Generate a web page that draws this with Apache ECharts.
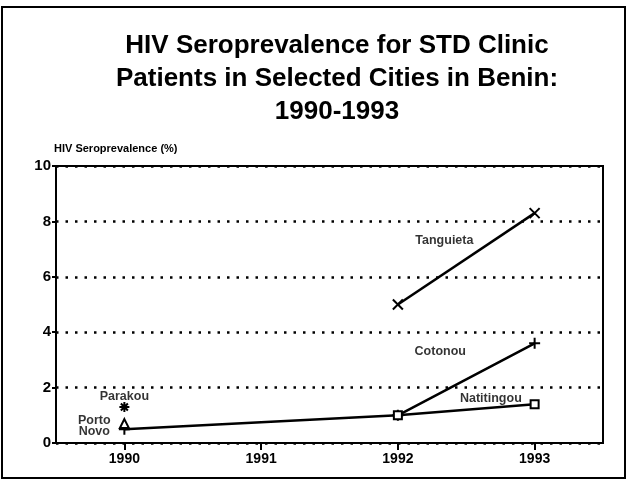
<!DOCTYPE html>
<html>
<head>
<meta charset="utf-8">
<script src="https://cdn.jsdelivr.net/npm/echarts@6/dist/echarts.min.js"></script>
<style>
  html, body { margin: 0; padding: 0; background: #fff; }
  #chart { width: 628px; height: 482px; }
</style>
</head>
<body>
<div id="chart"></div>
<script>
// data
var years = [1990, 1991, 1992, 1993];
var tanguieta = [null, null, 5.0, 8.3];
var cotonou = [0.5, null, 1.0, 3.6];
var natitingou = [null, null, 1.0, 1.4];
var portoNovo = [0.7, null, null, null];
var parakou = [1.3, null, null, null];
var cityNames = ['Tanguieta', 'Cotonou', 'Natitingou', 'Porto\nNovo', 'Parakou'];

// where the city names sit (axis units), layout only
var labelSpots = [
  [1992.34, 7.3],
  [1992.31, 3.3],
  [1992.68, 1.6],
  [1989.78, 0.62],
  [1990.0, 1.68]
];

function pairs(vals) {
  var res = [];
  for (var i = 0; i < years.length; i++) {
    if (vals[i] != null) res.push([years[i], vals[i]]);
  }
  return res;
}

var FONT = '"Liberation Sans", Arial, sans-serif';
var strokeItem = { color: '#000', borderColor: '#000', borderWidth: 2 };

function lineSeries(name, vals, symbol, size, item) {
  return {
    name: name,
    type: 'line',
    data: pairs(vals),
    symbol: symbol,
    symbolSize: size,
    showAllSymbol: true,
    lineStyle: { color: '#000', width: 2.5 },
    itemStyle: item || strokeItem,
    z: 3
  };
}

var labelData = [];
for (var i = 0; i < cityNames.length; i++) {
  labelData.push([labelSpots[i][0], labelSpots[i][1], cityNames[i]]);
}

var option = {
  animation: false,
  backgroundColor: '#fff',
  textStyle: { fontFamily: FONT },
  title: {
    text: 'HIV Seroprevalence for STD Clinic\nPatients in Selected Cities in Benin:\n1990-1993',
    left: 332,
    textAlign: 'center',
    top: 24,
    textStyle: { fontFamily: FONT, fontSize: 26, fontWeight: 'bold', color: '#000', lineHeight: 33 }
  },
  graphic: [{
    type: 'rect',
    shape: { x: 2, y: 7, width: 623, height: 471 },
    style: { fill: 'none', stroke: '#000', lineWidth: 2 },
    silent: true
  }],
  grid: {
    left: 56, right: 25, top: 166, bottom: 39,
    show: true, borderColor: '#000', borderWidth: 2
  },
  xAxis: {
    type: 'value',
    min: 1989.5,
    max: 1993.5,
    splitLine: { show: false },
    axisLine: { lineStyle: { color: '#000', width: 2 } },
    axisTick: { customValues: years, length: 7, lineStyle: { color: '#000', width: 2 } },
    axisLabel: {
      customValues: years,
      formatter: function (v) { return String(v); },
      margin: 9,
      color: '#000', fontSize: 14, fontWeight: 'bold', fontFamily: FONT
    }
  },
  yAxis: {
    type: 'value',
    min: 0,
    max: 10,
    interval: 2,
    name: 'HIV Seroprevalence (%)',
    nameLocation: 'end',
    nameGap: 12,
    nameTextStyle: { align: 'left', color: '#000', fontSize: 11, fontWeight: 'bold', fontFamily: FONT, padding: [0, 0, 0, -2] },
    axisLine: { show: true, lineStyle: { color: '#000', width: 2 } },
    axisTick: { show: true, length: 4, lineStyle: { color: '#000', width: 2 } },
    axisLabel: {
      formatter: function (v) { return String(v); },
      margin: 5,
      color: '#000', fontSize: 15, fontWeight: 'bold', fontFamily: FONT
    },
    splitLine: { show: true, lineStyle: { color: '#000', width: 2.5, type: [2.5, 7] } }
  },
  series: [
    lineSeries('Tanguieta', tanguieta, 'path://M0,0L10,10M10,0L0,10', 10),
    lineSeries('Cotonou', cotonou, 'path://M5,0L5,10M0,5L10,5', 11),
    lineSeries('Natitingou', natitingou, 'emptyRect', 8, { color: '#000', borderWidth: 1.5 }),
    lineSeries('Porto Novo', portoNovo, 'emptyTriangle', 9, { color: '#000', borderWidth: 1.5 }),
    lineSeries('Parakou', parakou, 'path://M5,0L5,10M0,5L10,5M1.5,1.5L8.5,8.5M8.5,1.5L1.5,8.5', 10),
    {
      name: 'names',
      type: 'scatter',
      data: labelData,
      symbolSize: 0,
      silent: true,
      label: {
        show: true,
        position: 'inside',
        formatter: function (p) { return p.value[2]; },
        color: '#000', fontSize: 12.5, fontWeight: 'bold', fontFamily: FONT, lineHeight: 11
      },
      z: 5
    }
  ]
};

var myChart = echarts.init(document.getElementById('chart'));
myChart.setOption(option);
</script>
</body>
</html>
